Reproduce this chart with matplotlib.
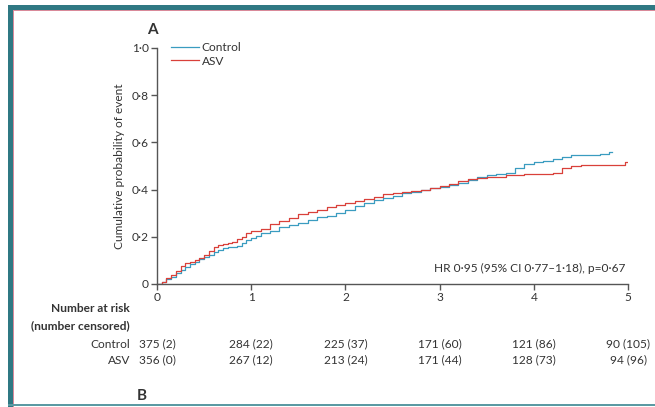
import matplotlib
matplotlib.use("Agg")
import matplotlib.pyplot as plt
from matplotlib.patches import Rectangle

plt.rcParams['font.family'] = ['Lato', 'DejaVu Sans']

# Kaplan-Meier style cumulative incidence (step breakpoints, years)
control_t = [0, 0.05, 0.1, 0.15, 0.2, 0.25, 0.3, 0.35, 0.4, 0.45, 0.5, 0.55, 0.6,
             0.65, 0.7, 0.75, 0.8, 0.85, 0.9, 0.95, 1.0, 1.05, 1.1, 1.2, 1.3, 1.4,
             1.5, 1.6, 1.7, 1.8, 1.9, 2.0, 2.1, 2.2, 2.3, 2.4, 2.5, 2.6, 2.7, 2.8,
             2.9, 3.0, 3.1, 3.2, 3.3, 3.4, 3.5, 3.6, 3.7, 3.8, 3.9, 4.0, 4.1, 4.2,
             4.3, 4.4, 4.7, 4.8, 4.83]
control_p = [0, 0.01, 0.02, 0.03, 0.045, 0.06, 0.072, 0.085, 0.095, 0.105, 0.115,
             0.125, 0.135, 0.145, 0.152, 0.155, 0.158, 0.162, 0.172, 0.185, 0.195,
             0.205, 0.215, 0.225, 0.24, 0.252, 0.26, 0.27, 0.285, 0.29, 0.3, 0.315,
             0.33, 0.345, 0.355, 0.365, 0.375, 0.385, 0.39, 0.4, 0.405, 0.41, 0.42,
             0.43, 0.44, 0.455, 0.46, 0.465, 0.47, 0.49, 0.51, 0.515, 0.52, 0.53,
             0.54, 0.545, 0.55, 0.56, 0.56]

asv_t = [0, 0.05, 0.1, 0.15, 0.2, 0.25, 0.3, 0.35, 0.4, 0.45, 0.5, 0.55, 0.6, 0.65,
         0.7, 0.75, 0.8, 0.85, 0.9, 0.95, 1.0, 1.1, 1.2, 1.3, 1.4, 1.5, 1.6, 1.7,
         1.8, 1.9, 2.0, 2.1, 2.2, 2.3, 2.4, 2.5, 2.6, 2.7, 2.8, 2.9, 3.0, 3.1, 3.2,
         3.3, 3.4, 3.5, 3.7, 3.9, 4.2, 4.3, 4.4, 4.5, 4.97, 5.0]
asv_p = [0, 0.01, 0.025, 0.04, 0.055, 0.075, 0.09, 0.095, 0.1, 0.11, 0.125, 0.14,
         0.155, 0.165, 0.17, 0.175, 0.18, 0.19, 0.2, 0.215, 0.225, 0.235, 0.255,
         0.265, 0.28, 0.295, 0.305, 0.315, 0.325, 0.335, 0.345, 0.35, 0.36, 0.37,
         0.38, 0.385, 0.39, 0.395, 0.4, 0.405, 0.415, 0.425, 0.435, 0.445, 0.45,
         0.455, 0.46, 0.465, 0.47, 0.49, 0.5, 0.505, 0.515, 0.515]

x_ticks = [0, 1, 2, 3, 4, 5]
y_ticks = [0, 0.2, 0.4, 0.6, 0.8, 1.0]
y_tick_labels = ["0", "0·2", "0·4", "0·6", "0·8", "1·0"]

risk_groups = ["Control", "ASV"]
control_risk = ["375 (2)", "284 (22)", "225 (37)", "171 (60)", "121 (86)", "90 (105)"]
asv_risk = ["356 (0)", "267 (12)", "213 (24)", "171 (44)", "128 (73)", "94 (96)"]

hr_text = "HR 0·95 (95% CI 0·77–1·18), p=0·67"

BLUE = "#3a9cc0"
RED = "#d9403a"
AXC = "#555555"
TXT = "#333333"
TEAL = "#2f7883"
FS = 8.6

W, H = 655, 407
fig = plt.figure(figsize=(W / 100, H / 100), dpi=100)
fig.patch.set_facecolor("white")

# panel frame
fig.add_artist(Rectangle((8 / W, 0), 5 / W, 1 - 5 / H, transform=fig.transFigure,
                         color=TEAL, lw=0))
fig.add_artist(Rectangle((8 / W, 1 - 10 / H), 1, 5 / H, transform=fig.transFigure,
                         color=TEAL, lw=0))
fig.add_artist(Rectangle((13 / W, 0), 1.3 / W, 1 - 10 / H, transform=fig.transFigure,
                         color="#d98a9a", lw=0))
fig.add_artist(Rectangle((13 / W, 1 - 11.3 / H), 1, 1.3 / H, transform=fig.transFigure,
                         color="#d98a9a", lw=0))
fig.add_artist(Rectangle((8 / W, 1 / H), 1, 2 / H, transform=fig.transFigure,
                         color="#5b9aa3", lw=0))

ax = fig.add_axes([157 / W, 1 - 284 / H, (628 - 157) / W, (284 - 48) / H])
ax.step(control_t, control_p, where="post", color=BLUE, lw=0.9, label="Control")
ax.step(asv_t, asv_p, where="post", color=RED, lw=0.9, label="ASV")
ax.set_xlim(0, 5)
ax.set_ylim(0, 1)

for s in ["top", "right"]:
    ax.spines[s].set_visible(False)
for s in ["left", "bottom"]:
    ax.spines[s].set_color(AXC)
    ax.spines[s].set_linewidth(1.0)

ax.set_xticks(x_ticks)
ax.set_xticklabels([str(v) for v in x_ticks])
ax.set_yticks(y_ticks)
ax.set_yticklabels(y_tick_labels)
ax.tick_params(axis="both", colors=AXC, labelcolor=TXT, labelsize=FS,
               length=4, width=1.0, pad=2)

ax.set_ylabel("Cumulative probability of event", fontsize=FS, color=TXT, labelpad=5)

leg = ax.legend(loc="upper left", bbox_to_anchor=(0.02, 1.045), frameon=False,
                fontsize=FS, handlelength=2.3, handletextpad=0.25,
                labelspacing=0.2, borderaxespad=0)
for t in leg.get_texts():
    t.set_color(TXT)

ax.text(0.995, 0.065, hr_text, transform=ax.transAxes, ha="right", va="center",
        fontsize=FS, color=TXT)

fig.text(152 / W, 1 - 30 / H, "A", fontsize=11, fontweight="bold", color=TXT,
         ha="center", va="center")
fig.text(142 / W, 1 - 396 / H, "B", fontsize=11, fontweight="bold", color=TXT,
         ha="center", va="center")

# number at risk table
lab_x = 130 / W
fig.text(lab_x, 1 - 309 / H, "Number at risk", fontsize=FS, fontweight="bold",
         color=TXT, ha="right", va="center")
fig.text(lab_x, 1 - 326 / H, "(number censored)", fontsize=FS, fontweight="bold",
         color=TXT, ha="right", va="center")
row_y = [344, 360]
for name, yy, vals in zip(risk_groups, row_y, [control_risk, asv_risk]):
    fig.text(lab_x, 1 - yy / H, name, fontsize=FS, color=TXT, ha="right", va="center")
    for xv, v in zip(x_ticks, vals):
        xd = ax.transData.transform((xv, 0))[0]
        xf = fig.transFigure.inverted().transform((xd, 0))[0]
        fig.text(xf, 1 - yy / H, v, fontsize=FS, color=TXT, ha="center", va="center")

fig.savefig("out.png", dpi=100, facecolor="white")
